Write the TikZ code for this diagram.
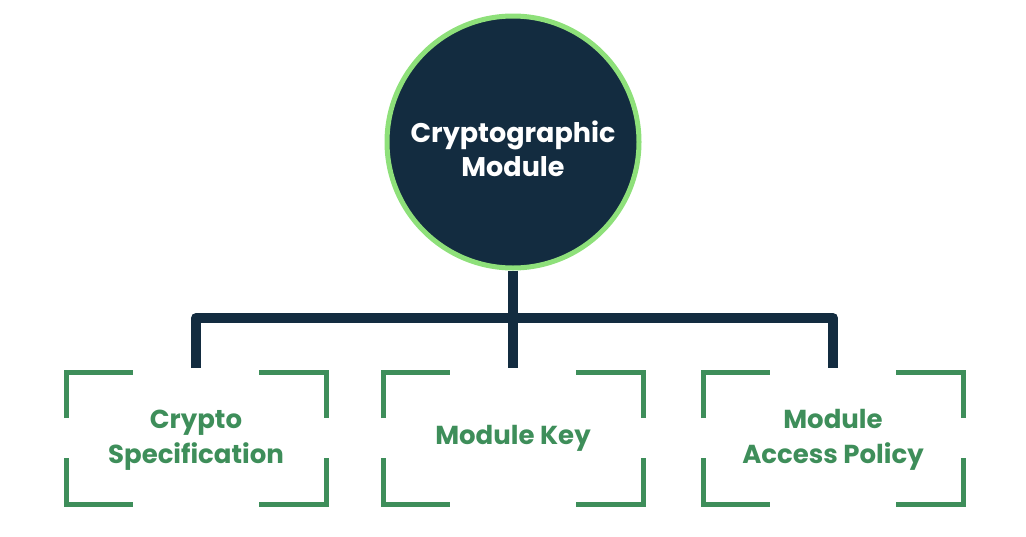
\documentclass[tikz,border=0pt]{standalone}
\usepackage{fontspec}
\setmainfont{Poppins}
\definecolor{navy}{HTML}{132C40}
\definecolor{grn}{HTML}{3E8E5A}
\definecolor{ring}{HTML}{8EE07A}
\begin{document}
\begin{tikzpicture}[x=1pt,y=-1pt,
  conn/.style={navy,line width=10pt,line join=round},
  brk/.style={grn,line width=5pt},
  lbl/.style={grn,font=\fontsize{26}{35}\selectfont\bfseries,align=center},
  box/.pic={
    \draw[brk] (-130,-20) -- (-130,-66) -- (-63,-66);
    \draw[brk] (63,-66) -- (130,-66) -- (130,-20);
    \draw[brk] (-130,20) -- (-130,66) -- (-63,66);
    \draw[brk] (63,66) -- (130,66) -- (130,20);
  }]
\useasboundingbox (0,0) rectangle (1026,536);
\node[circle,fill=navy,draw=ring,line width=5pt,minimum size=252pt,inner sep=0pt] (m) at (513,142) {};
\node[text=white,font=\fontsize{27}{34}\selectfont\bfseries,align=center] (mt) at (513,149) {Cryptographic\\Module};
\coordinate (j) at (513,318);
\coordinate (l) at (196,318);
\coordinate (r) at (833,318);
\coordinate (la) at (196,368);
\coordinate (ma) at (513,368);
\coordinate (ra) at (833,368);
\draw[conn] (m.south) -- (ma);
\draw[conn] (la) -- (l) -- (r) -- (ra);
\pic at (196,438) {box};
\pic at (513,438) {box};
\pic at (833,438) {box};
\node[lbl] (a) at (196,440) {Crypto\\Specification};
\node[lbl] (b) at (513,438) {Module Key};
\node[lbl] (c) at (833,440) {Module\\Access Policy};
\end{tikzpicture}
\end{document}
